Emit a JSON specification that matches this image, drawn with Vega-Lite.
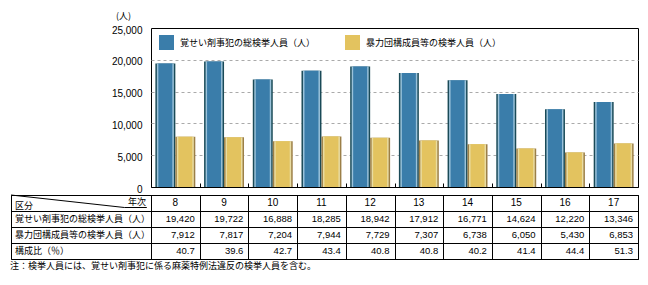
{
  "$schema": "https://vega.github.io/schema/vega-lite/v6.json",
  "padding": {"left": 10, "top": 10, "right": 5, "bottom": 5},
  "background": "white",
  "bounds": "flush",
  "align": "each",
  "spacing": {"row": 8, "column": 0},
  "columns": 2,
  "title": {"text": "注：検挙人員には、覚せい剤事犯に係る麻薬特例法違反の検挙人員を含む。", "orient": "bottom", "anchor": "start", "font": "Noto Sans CJK JP", "fontSize": 9, "fontWeight": "normal", "color": "black", "offset": 2},
  "config": {"view": {"stroke": "black", "strokeWidth": 1}},
  "datasets": {
    "main": [
      {"year": 8, "覚せい剤事犯の総検挙人員（人）": 19420, "暴力団構成員等の検挙人員（人）": 7912, "構成比（％）": 40.7},
      {"year": 9, "覚せい剤事犯の総検挙人員（人）": 19722, "暴力団構成員等の検挙人員（人）": 7817, "構成比（％）": 39.6},
      {"year": 10, "覚せい剤事犯の総検挙人員（人）": 16888, "暴力団構成員等の検挙人員（人）": 7204, "構成比（％）": 42.7},
      {"year": 11, "覚せい剤事犯の総検挙人員（人）": 18285, "暴力団構成員等の検挙人員（人）": 7944, "構成比（％）": 43.4},
      {"year": 12, "覚せい剤事犯の総検挙人員（人）": 18942, "暴力団構成員等の検挙人員（人）": 7729, "構成比（％）": 40.8},
      {"year": 13, "覚せい剤事犯の総検挙人員（人）": 17912, "暴力団構成員等の検挙人員（人）": 7307, "構成比（％）": 40.8},
      {"year": 14, "覚せい剤事犯の総検挙人員（人）": 16771, "暴力団構成員等の検挙人員（人）": 6738, "構成比（％）": 40.2},
      {"year": 15, "覚せい剤事犯の総検挙人員（人）": 14624, "暴力団構成員等の検挙人員（人）": 6050, "構成比（％）": 41.4},
      {"year": 16, "覚せい剤事犯の総検挙人員（人）": 12220, "暴力団構成員等の検挙人員（人）": 5430, "構成比（％）": 44.4},
      {"year": 17, "覚せい剤事犯の総検挙人員（人）": 13346, "暴力団構成員等の検挙人員（人）": 6853, "構成比（％）": 51.3}
    ],
    "rows": [
      {"row": "覚せい剤事犯の総検挙人員（人）"},
      {"row": "暴力団構成員等の検挙人員（人）"},
      {"row": "構成比（％）"}
    ]
  },
  "concat": [
    {
      "width": 140, "height": 159,
      "view": {"stroke": null},
      "data": {"values": []},
      "mark": "point",
      "encoding": {}
    },
    {
      "width": 487, "height": 159,
      "data": {"name": "main"},
      "transform": [{"fold": ["覚せい剤事犯の総検挙人員（人）", "暴力団構成員等の検挙人員（人）"], "as": ["series", "value"]}],
      "encoding": {
        "x": {"field": "year", "type": "ordinal", "scale": {"paddingInner": 0, "paddingOuter": 0},
              "axis": {"orient": "bottom", "tickBand": "extent", "tickSize": -4, "ticks": true, "tickColor": "black", "labels": false, "domain": false, "grid": false, "title": null}},
        "xOffset": {"field": "series", "type": "nominal", "scale": {"domain": ["覚せい剤事犯の総検挙人員（人）", "暴力団構成員等の検挙人員（人）"], "paddingInner": 0, "paddingOuter": 0.22}},
        "y": {"field": "value", "type": "quantitative", "scale": {"domain": [0, 25000], "nice": false},
              "axis": {"values": [0, 5000, 10000, 15000, 20000, 25000], "format": ",d", "grid": true, "gridDash": [3, 3], "gridColor": "#aaaaaa",
                       "gridOpacity": {"condition": {"test": "datum.value === 0 || datum.value === 25000", "value": 0}, "value": 1},
                       "ticks": false, "domain": false, "labelPadding": 9, "labelOffset": 2, "labelFont": "Liberation Sans", "labelFontSize": 10, "labelColor": "black",
                       "title": "(人)", "titleAngle": 0, "titleX": -28, "titleY": -13, "titleAlign": "center", "titleBaseline": "middle",
                       "titleFont": "Noto Sans CJK JP", "titleFontSize": 9, "titleFontWeight": "normal", "titleColor": "black"}}
      },
      "layer": [
        {"mark": {"type": "bar"},
         "encoding": {"fill": {"condition": {"test": "datum.series === '覚せい剤事犯の総検挙人員（人）'", "value": "#1a4a57"}, "value": "#9c7f47"}}},
        {"mark": {"type": "bar", "width": 17, "xOffset": -1.5},
         "encoding": {"fill": {"condition": {"test": "datum.series === '覚せい剤事犯の総検挙人員（人）'", "value": "#9ac2da"}, "value": "#e9dca2"}}},
        {"mark": {"type": "bar", "width": 14},
         "encoding": {"color": {"field": "series", "type": "nominal",
                                "scale": {"domain": ["覚せい剤事犯の総検挙人員（人）", "暴力団構成員等の検挙人員（人）"], "range": ["#3a7daa", "#e3c35f"]},
                                "legend": {"orient": "none", "legendX": 148, "legendY": 7, "direction": "horizontal", "title": null,
                                           "symbolType": "square", "symbolSize": 225, "symbolStrokeWidth": 0, "symbolOpacity": 1,
                                           "labelFont": "Noto Sans CJK JP", "labelFontSize": 9, "labelColor": "black", "labelOffset": 6,
                                           "columnPadding": 29, "labelLimit": 300}}}}
      ]
    },
    {
      "width": 140, "height": 64,
      "layer": [
        {"data": {"name": "rows"},
         "mark": {"type": "text", "align": "left", "dx": 4, "font": "Noto Sans CJK JP", "fontSize": 9, "color": "black"},
         "encoding": {
           "x": {"datum": 0, "type": "quantitative", "scale": {"domain": [0, 1]}, "axis": null},
           "y": {"field": "row", "type": "nominal", "scale": {"type": "band", "domain": ["年次", "覚せい剤事犯の総検挙人員（人）", "暴力団構成員等の検挙人員（人）", "構成比（％）"], "paddingInner": 0, "paddingOuter": 0},
                 "axis": {"tickBand": "extent", "grid": true, "gridColor": "black", "gridOpacity": 1, "labels": false, "ticks": false, "domain": false, "title": null}},
           "text": {"field": "row"}
         }},
        {"data": {"values": [{}]},
         "mark": {"type": "text", "align": "left", "dx": 4, "dy": 3, "text": "区分", "font": "Noto Sans CJK JP", "fontSize": 9, "color": "black"},
         "encoding": {"x": {"datum": 0, "type": "quantitative"}, "y": {"datum": "年次", "type": "nominal"}}},
        {"data": {"values": [{}]},
         "mark": {"type": "text", "align": "right", "dx": -5, "dy": -1, "text": "年次", "font": "Noto Sans CJK JP", "fontSize": 9, "color": "black"},
         "encoding": {"x": {"datum": 1, "type": "quantitative"}, "y": {"datum": "年次", "type": "nominal"}}},
        {"data": {"values": [{}]},
         "mark": {"type": "rule", "color": "black", "strokeWidth": 1, "yOffset": -8, "y2Offset": 4.5},
         "encoding": {"x": {"datum": 0, "type": "quantitative"}, "x2": {"datum": 0.81},
                      "y": {"datum": "年次", "type": "nominal"}, "y2": {"datum": "年次"}}},
        {"data": {"values": [{}]},
         "mark": {"type": "rule", "color": "black", "strokeWidth": 1, "yOffset": 4.5},
         "encoding": {"x": {"datum": 0.81, "type": "quantitative"}, "x2": {"datum": 0.97},
                      "y": {"datum": "年次", "type": "nominal"}}}
      ]
    },
    {
      "width": 487, "height": 64,
      "data": {"name": "main"},
      "encoding": {
        "x": {"field": "year", "type": "ordinal", "scale": {"type": "band", "paddingInner": 0, "paddingOuter": 0},
              "axis": {"orient": "top", "tickBand": "extent", "grid": true, "gridColor": "black", "gridOpacity": 1, "labels": false, "ticks": false, "domain": false, "title": null}}
      },
      "layer": [
        {"mark": {"type": "text", "font": "Liberation Sans", "fontSize": 10, "color": "black"},
         "encoding": {
           "y": {"datum": "年次", "type": "nominal", "scale": {"type": "band", "domain": ["年次", "覚せい剤事犯の総検挙人員（人）", "暴力団構成員等の検挙人員（人）", "構成比（％）"], "paddingInner": 0, "paddingOuter": 0},
                 "axis": {"tickBand": "extent", "grid": true, "gridColor": "black", "gridOpacity": 1, "labels": false, "ticks": false, "domain": false, "title": null}},
           "text": {"field": "year", "type": "ordinal"}
         }},
        {"transform": [{"fold": ["覚せい剤事犯の総検挙人員（人）", "暴力団構成員等の検挙人員（人）"], "as": ["row", "value"]}],
         "mark": {"type": "text", "align": "right", "dx": -5, "font": "Liberation Sans", "fontSize": 9.5, "color": "black"},
         "encoding": {
           "x": {"field": "year", "type": "ordinal", "bandPosition": 1},
           "y": {"field": "row", "type": "nominal"},
           "text": {"field": "value", "type": "quantitative", "format": ","}
         }},
        {"mark": {"type": "text", "align": "right", "dx": -5, "font": "Liberation Sans", "fontSize": 9.5, "color": "black"},
         "encoding": {
           "x": {"field": "year", "type": "ordinal", "bandPosition": 1},
           "y": {"datum": "構成比（％）", "type": "nominal"},
           "text": {"field": "構成比（％）", "type": "quantitative", "format": ".1f"}
         }}
      ]
    }
  ]
}
